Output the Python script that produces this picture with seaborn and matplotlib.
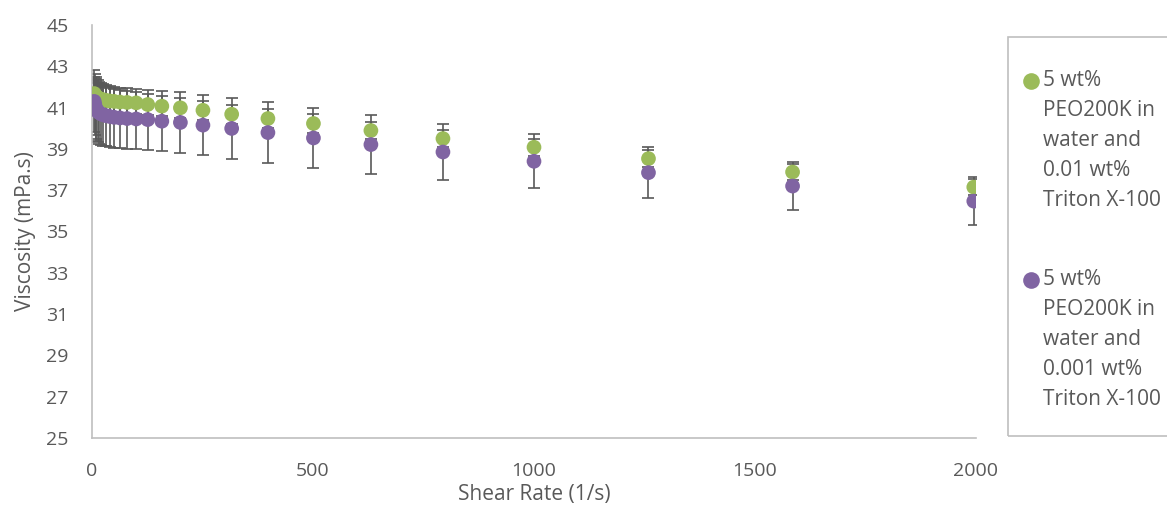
import pandas as pd
import seaborn as sns
import matplotlib.pyplot as plt
from matplotlib.lines import Line2D
from matplotlib.patches import Rectangle
from matplotlib.legend_handler import HandlerLine2D

# Shear rates (1/s), log spaced as logged by the rheometer
shear_rate = [5.01, 6.31, 7.94, 10.0, 12.6, 15.8, 20.0, 25.1, 31.6, 39.8,
              50.1, 63.1, 79.4, 100, 126, 158, 200, 251, 316, 398,
              501, 631, 794, 1000, 1259, 1585, 1995]

# 5 wt% PEO200K + 0.01 wt% Triton X-100
visc_01 = [41.68, 41.62, 41.57, 41.52, 41.48, 41.44, 41.41, 41.38, 41.35, 41.32,
           41.30, 41.27, 41.25, 41.23, 41.15, 41.07, 40.99, 40.87, 40.68, 40.47,
           40.23, 39.89, 39.50, 39.08, 38.53, 37.88, 37.15]
err_01 = [0.80, 0.78, 0.76, 0.74, 0.72, 0.70, 0.68, 0.66, 0.64, 0.62,
          0.60, 0.58, 0.56, 0.54, 0.52, 0.50, 0.47, 0.45, 0.46, 0.47,
          0.44, 0.42, 0.43, 0.41, 0.41, 0.41, 0.40]

# 5 wt% PEO200K + 0.001 wt% Triton X-100
visc_001 = [41.30, 41.15, 41.00, 40.90, 40.82, 40.76, 40.70, 40.65, 40.61, 40.57,
            40.53, 40.50, 40.47, 40.45, 40.42, 40.34, 40.28, 40.15, 39.99, 39.79,
            39.53, 39.21, 38.85, 38.40, 37.85, 37.20, 36.47]
err_001 = [1.50, 1.50, 1.50, 1.50, 1.50, 1.50, 1.50, 1.49, 1.49, 1.48,
           1.48, 1.47, 1.46, 1.45, 1.45, 1.44, 1.48, 1.46, 1.46, 1.46,
           1.44, 1.41, 1.37, 1.30, 1.23, 1.18, 1.16]

labels = ["5 wt%\nPEO200K in\nwater and\n0.01 wt%\nTriton X-100",
          "5 wt%\nPEO200K in\nwater and\n0.001 wt%\nTriton X-100"]
colors = ["#9BBB59", "#8064A2"]
y_ticks = list(range(25, 46, 2))
x_ticks = [0, 500, 1000, 1500, 2000]

df = pd.concat([
    pd.DataFrame({"shear": shear_rate, "visc": visc_01, "err": err_01, "series": labels[0]}),
    pd.DataFrame({"shear": shear_rate, "visc": visc_001, "err": err_001, "series": labels[1]}),
], ignore_index=True)

sns.set_theme(style="white")
plt.rcParams['font.family'] = ['Open Sans', 'DejaVu Sans']
text_col = "#595959"
axis_col = "#BFBFBF"

fig = plt.figure(figsize=(11.67, 5.07), dpi=100)
ax = fig.add_axes([92 / 1167, 1 - 438 / 507, 884 / 1167, 413 / 507])

# error bars sit under the markers, like Excel does it
for lab in labels:
    sub = df[df["series"] == lab]
    ax.errorbar(sub["shear"], sub["visc"], yerr=sub["err"], fmt="none",
                ecolor=text_col, elinewidth=1.2, capsize=4.3, capthick=1.2, zorder=2)

sns.scatterplot(data=df, x="shear", y="visc", hue="series", palette=colors,
                s=112, edgecolor="none", linewidth=0, legend=False, ax=ax, zorder=3)

ax.set_xlim(0, 2000)
ax.set_ylim(25, 45)
ax.set_xticks(x_ticks)
ax.set_yticks(y_ticks)
ax.tick_params(axis="y", length=0, pad=17, labelsize=14, labelcolor=text_col)
ax.tick_params(axis="x", length=0, pad=17, labelsize=14, labelcolor=text_col)
ax.set_xlabel("Shear Rate (1/s)", fontsize=15, color=text_col, labelpad=3)
ax.set_ylabel("Viscosity (mPa.s)", fontsize=15, color=text_col, labelpad=7)
for side in ["top", "right"]:
    ax.spines[side].set_visible(False)
for side in ["left", "bottom"]:
    ax.spines[side].set_color(axis_col)
    ax.spines[side].set_linewidth(1.2)


# legend marker next to the first line of a wrapped label
class FirstLineHandler(HandlerLine2D):
    def __init__(self, shift, **kw):
        super().__init__(**kw)
        self.shift = shift

    def create_artists(self, *args, **kwargs):
        arts = super().create_artists(*args, **kwargs)
        for a in arts:
            a.set_ydata([y + self.shift for y in a.get_ydata()])
        return arts


handles = [Line2D([], [], marker="o", linestyle="none", markersize=12,
                  markerfacecolor=c, markeredgewidth=0) for c in colors]
leg = ax.legend(handles, labels, loc="upper left", bbox_to_anchor=(1023 / 1167, 1 - 70 / 507),
                bbox_transform=fig.transFigure, frameon=False, borderpad=0, borderaxespad=0,
                fontsize=15, labelcolor=text_col, handlelength=0.8, handletextpad=0.15,
                labelspacing=2.75,
                handler_map={Line2D: FirstLineHandler(shift=2 * 30 * 0.72)})
for t in leg.get_texts():
    t.set_linespacing(1.57)

fig.patches.append(Rectangle((1008 / 1167, 1 - 436 / 507), 0.2, 399 / 507,
                             transform=fig.transFigure, fill=False,
                             edgecolor=axis_col, linewidth=1.2))

fig.savefig("out.png", dpi=100)
